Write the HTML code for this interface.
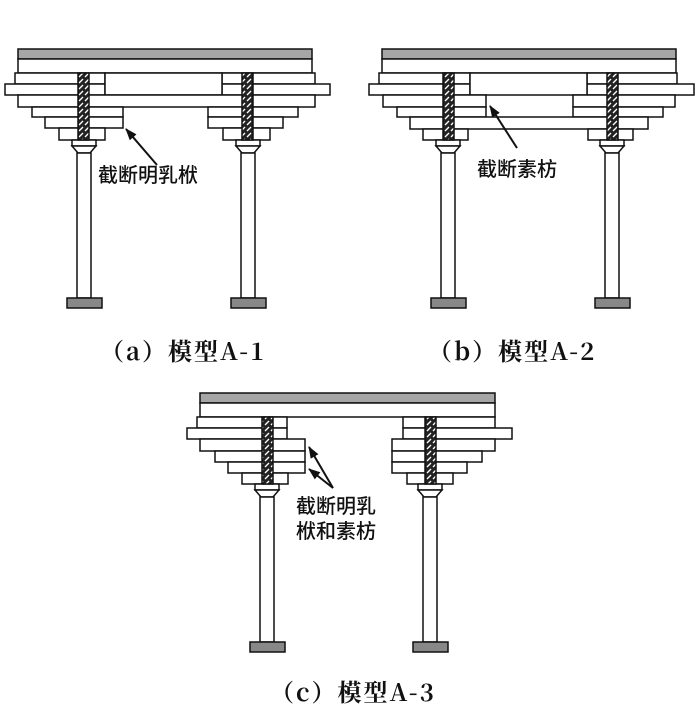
<!DOCTYPE html>
<html><head><meta charset="utf-8"><style>
html,body{margin:0;padding:0;background:#fff;width:700px;height:715px;overflow:hidden}
.lb{position:absolute;font-family:"Noto Serif CJK SC","Liberation Serif",serif;font-weight:bold;color:#111;white-space:nowrap;letter-spacing:2px}
.ar{position:absolute;font-family:"Liberation Sans","Noto Sans CJK SC",sans-serif;color:#111;font-size:20px;white-space:nowrap;font-weight:500}
</style></head><body>
<svg id="s" width="700" height="715" style="position:absolute;left:0;top:0" xmlns="http://www.w3.org/2000/svg">
<defs>
<pattern id="h" width="6" height="6" patternUnits="userSpaceOnUse">
<rect width="6" height="6" fill="#222"/><path d="M1 5 L5 1" stroke="#fff" stroke-width="1.3"/>
</pattern>
<marker id="m" markerWidth="12" markerHeight="9" refX="11" refY="4.5" orient="auto" markerUnits="userSpaceOnUse"><path d="M0 0 L12 4.5 L0 9 Z" fill="#111"/></marker>
</defs>
<g id="g" fill="#fff" stroke="#111" stroke-width="1.5"></g>
<line x1="157" y1="165" x2="126" y2="129" stroke="#111" stroke-width="2" marker-end="url(#m)"/>
<line x1="517" y1="148" x2="490" y2="106" stroke="#111" stroke-width="2" marker-end="url(#m)"/>
<line x1="333" y1="488" x2="309" y2="447" stroke="#111" stroke-width="2" marker-end="url(#m)"/>
<line x1="333" y1="488" x2="309" y2="469" stroke="#111" stroke-width="2" marker-end="url(#m)"/>
</svg>
<script>
var g=document.getElementById('g'),o='';
function r(x,y,w,h,f){o+='<rect x="'+x+'" y="'+y+'" width="'+w+'" height="'+h+'"'+(f?' fill="'+f+'"':'')+'/>';}
function col(cx,top,bot){
 r(cx-12,top,24,6);
 o+='<path d="M'+(cx-12)+' '+(top+6)+' L'+(cx+12)+' '+(top+6)+' L'+(cx+6)+' '+(top+13)+' L'+(cx-6)+' '+(top+13)+' Z"/>';
 r(cx-7,top+13,14,bot-top-13);
 r(cx-17,bot,35,10,'#888');
}
function beam(x1,x2,y){r(x1,y,x2-x1,10,'#a6a6a6');r(x1,y+10,x2-x1,14);}
function post(x,y1,y2){r(x,y1,11,y2-y1,'url(#h)');}
beam(18,312,49);
r(15,73,90,11);r(222,73,93,11);r(5,84,100,11);r(222,84,108,11);
r(105,73,117,22);
r(18,95,297,12);
r(32,107,91,10);r(45,117,78,11);r(59,128,46,12);
r(208,107,90,10);r(208,117,75,11);r(223,128,47,12);
col(84,140,298);col(248,140,298);
post(78,73,140);post(242,73,140);
beam(382,676,49);
r(379,73,91,11);r(587,73,90,11);r(369,84,101,11);r(587,84,107,11);
r(470,73,117,22);
r(383,95,103,12);r(573,95,102,12);
r(397,107,89,10);r(573,107,90,10);
r(410,117,238,12);
r(423,129,45,11);r(588,129,45,11);
col(448,140,298);col(612,140,298);
post(443,73,140);post(607,73,140);
beam(200,495,393);
r(197,417,90,11);r(403,417,92,11);r(187,428,100,11);r(403,428,109,11);
r(200,439,105,12);r(392,439,103,12);
r(215,451,90,11);r(392,451,90,11);
r(228,462,77,11);r(392,462,75,11);
r(242,473,46,11);r(407,473,46,11);
col(267,484,642);col(430,484,642);
post(262,417,484);post(425,417,484);
g.innerHTML=o;
</script>
<div class="ar" style="left:98px;top:159px">截断明乳栿</div>
<div class="ar" style="left:477px;top:153px">截断素枋</div>
<div class="ar" style="left:296px;top:495px;line-height:25px">截断明乳<br>栿和素枋</div>
<div class="lb" style="left:100px;top:332px;font-size:24px">（a）模型A-1</div>
<div class="lb" style="left:428px;top:332px;font-size:24px">（b）模型A-2</div>
<div class="lb" style="left:270px;top:673px;font-size:24px">（c）模型A-3</div>
</body></html>
